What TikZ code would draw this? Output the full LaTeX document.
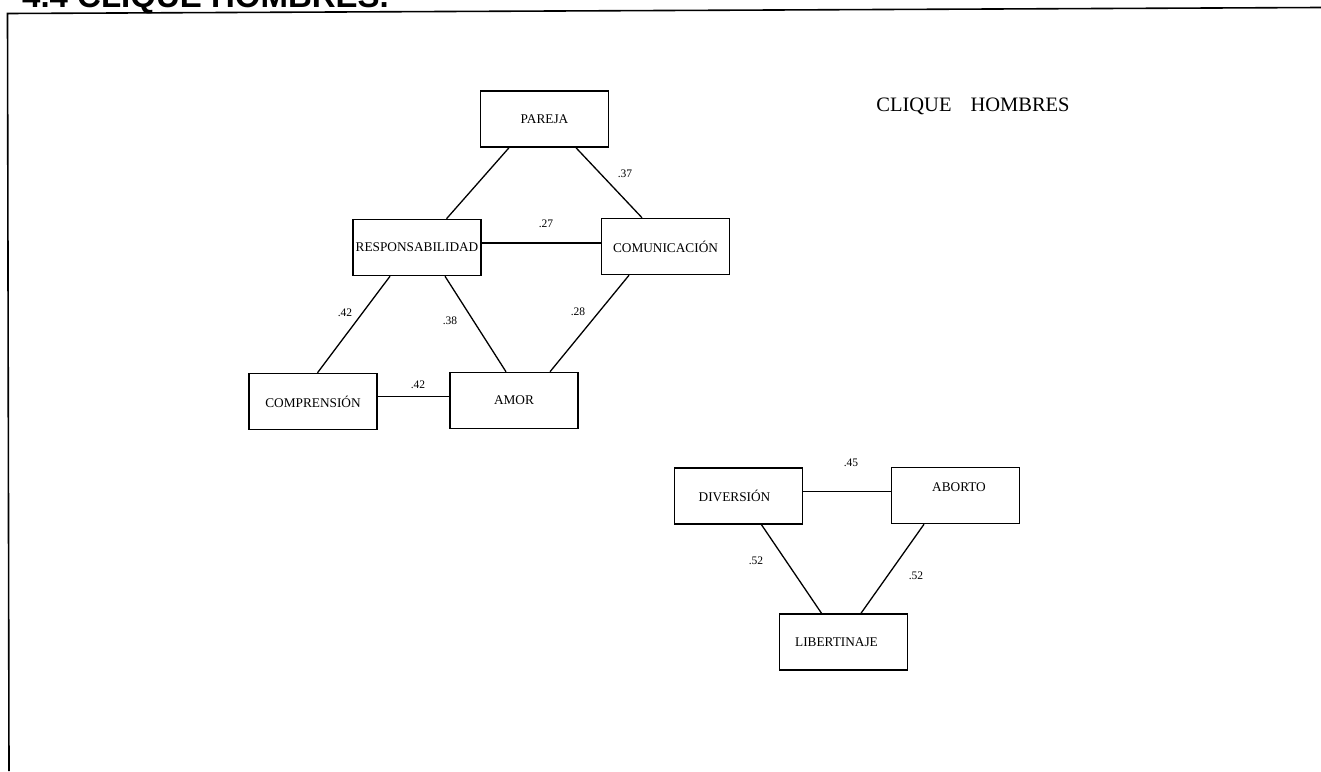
\documentclass[tikz,border=0pt]{standalone}
\usepackage{fontspec}
\setmainfont{Liberation Serif}
\newfontfamily\titlefont{Liberation Sans}
\tikzset{
  concept/.style={draw, line width=1.5pt, minimum width=128pt, minimum height=56pt,
    inner sep=0pt, font=\fontsize{13.3}{15}\selectfont},
  weight/.style={inner sep=0pt, font=\fontsize{11.5}{13}\selectfont},
  link/.style={line width=1.3pt},
}
\begin{document}
\begin{tikzpicture}[x=1pt,y=-1pt]
\useasboundingbox (0,0) rectangle (1321,771);
\clip (0,0) rectangle (1321,771);
% title and frame
\node[anchor=base west, inner sep=0pt, font=\titlefont\bfseries\fontsize{33}{36}\selectfont] (title) at (22,7) {4.4 CLIQUE HOMBRES.};
\draw[line width=1.6pt] (1321,7.5) -- (7.5,13.5) -- (9,771);
\node[inner sep=0pt, font=\fontsize{20.5}{24}\selectfont] (heading) at (973,106) {CLIQUE\hspace{19pt}HOMBRES};

% first clique
\node[concept] (pareja) at (544.5,119) {PAREJA};
\node[concept] (resp) at (417,247.5) {RESPONSABILIDAD};
\node[concept] (comun) at (665.5,246.5) {COMUNICACIÓN};
\node[concept] (compr) at (313,401.5) {COMPRENSIÓN};
\node[concept] (amor) at (514,400.5) {AMOR};

\draw[link] ([xshift=-35.5pt]pareja.south) -- ([xshift=29.5pt]resp.north);
\draw[link] ([xshift=31.5pt]pareja.south) -- ([xshift=-23.5pt]comun.north);
\draw[link] ([yshift=4.5pt]resp.east) -- ([yshift=3.5pt]comun.west);
\draw[link] ([xshift=-27pt]resp.south) -- ([xshift=4.5pt]compr.north);
\draw[link] ([xshift=28pt]resp.south) -- ([xshift=-8pt]amor.north);
\draw[link] ([xshift=-36.5pt]comun.south) -- ([xshift=36pt]amor.north);
\draw[link] ([yshift=5pt]compr.east) -- ([yshift=4pt]amor.west);

\node[weight] (w1) at (625,174) {.37};
\node[weight] (w2) at (546,224) {.27};
\node[weight] (w3) at (345,313) {.42};
\node[weight] (w4) at (450,320.5) {.38};
\node[weight] (w5) at (578,312) {.28};
\node[weight] (w6) at (418,385) {.42};

% second clique
\node[concept] (divers) at (738.5,496) {\hspace{-8pt}DIVERSIÓN};
\node[concept] (aborto) at (955.5,495.5) {\hspace{7pt}\raisebox{8.5pt}[\height][\depth]{ABORTO}};
\node[concept] (libert) at (843.5,642) {\hspace{-14pt}LIBERTINAJE};

\draw[link] ([yshift=4.3pt]divers.east) -- ([yshift=3.8pt]aborto.west);
\draw[link] ([xshift=23pt]divers.south) -- ([xshift=-22pt]libert.north);
\draw[link] ([xshift=-31.5pt]aborto.south) -- ([xshift=17.5pt]libert.north);

\node[weight] (w7) at (851,463) {.45};
\node[weight] (w8) at (756,560.5) {.52};
\node[weight] (w9) at (916,576) {.52};
\end{tikzpicture}
\end{document}
